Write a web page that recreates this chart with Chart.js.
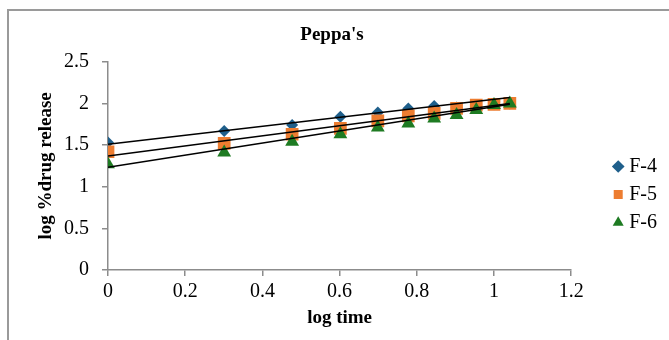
<!DOCTYPE html>
<html>
<head>
<meta charset="utf-8">
<script src="https://cdn.jsdelivr.net/npm/chart.js@4.4.1/dist/chart.umd.min.js"></script>
<style>
html, body { margin: 0; padding: 0; background: #fff; overflow: hidden; }
#wrap { position: relative; width: 669px; height: 340px; overflow: hidden; }
#frame { position: absolute; left: 7px; top: 9px; width: 700px; height: 400px; border: 2px solid #9a9a9a; }
canvas { position: absolute; left: 0; top: 0; }
</style>
</head>
<body>
<div id="wrap">
    <div id="frame"></div>
    <canvas id="chart" width="669" height="340"></canvas>
</div>
<script>
// log of sampling time (h = 1..11)
const logTime = [0, 0.301, 0.477, 0.602, 0.699, 0.778, 0.845, 0.903, 0.954, 1.0, 1.041];

// log % drug release
const f4 = [1.53, 1.67, 1.74, 1.84, 1.89, 1.94, 1.97, 1.95, 1.98, 1.99, 2.0];
const f5 = [1.42, 1.52, 1.63, 1.70, 1.79, 1.85, 1.88, 1.94, 1.98, 1.99, 2.0];
const f6 = [1.27, 1.41, 1.54, 1.63, 1.71, 1.76, 1.82, 1.86, 1.92, 1.98, 2.0];

const seriesNames = ['F-4', 'F-5', 'F-6'];
const seriesValues = [f4, f5, f6];
const seriesColors = ['#1f5f8b', '#ed7d31', '#1e7b22'];
const seriesShapes = ['rectRot', 'rect', 'triangle'];
const seriesRadius = [6, 9, 8];

// linear trendlines as drawn (value at first and last log time)
const trendStart = [1.51, 1.37, 1.235];
const trendEnd = [2.07, 2.00, 1.99];

const xTicks = { min: 0, max: 1.2, step: 0.2 };
const yTicks = { min: 0, max: 2.5, step: 0.5 };

const serif = "'Liberation Serif', 'Times New Roman', serif";
const axisGray = '#8c8c8c';

const datasets = [];
seriesNames.forEach((name, i) => {
    datasets.push({
        label: name,
        data: logTime.map((x, j) => ({ x: x, y: seriesValues[i][j] })),
        backgroundColor: seriesColors[i],
        borderColor: seriesColors[i],
        pointStyle: seriesShapes[i],
        pointRadius: seriesRadius[i],
        pointHoverRadius: seriesRadius[i],
        borderWidth: 0,
        order: 3 - i
    });
});
seriesNames.forEach((name, i) => {
    datasets.push({
        label: name + ' trend',
        data: [
            { x: logTime[0], y: trendStart[i] },
            { x: logTime[logTime.length - 1], y: trendEnd[i] }
        ],
        showLine: true,
        borderColor: '#000',
        borderWidth: 1.5,
        pointRadius: 0,
        order: 0
    });
});

// move the legend box next to the plot like in the original
const legendShift = {
    id: 'legendShift',
    afterLayout(chart) {
        const lg = chart.legend;
        lg.left += 38; lg.right += 38;
        lg.top += 25; lg.bottom += 25;
    }
};

const plainNumber = (v) => String(+Number(v).toFixed(2));

new Chart(document.getElementById('chart'), {
    type: 'scatter',
    data: { datasets: datasets },
    plugins: [legendShift],
    options: {
        responsive: false,
        animation: false,
        layout: { padding: { left: 35, right: 40, top: 10, bottom: 11 } },
        plugins: {
            title: {
                display: true,
                text: "Peppa's",
                color: '#000',
                font: { family: serif, size: 19, weight: 'bold' },
                padding: { top: 14, bottom: 15 }
            },
            legend: {
                position: 'right',
                labels: {
                    color: '#000',
                    font: { family: serif, size: 20 },
                    usePointStyle: true,
                    boxWidth: 2,
                    boxHeight: 9,
                    padding: 8,
                    filter: (item) => !item.text.endsWith('trend'),
                    sort: (a, b) => a.datasetIndex - b.datasetIndex
                }
            },
            tooltip: { enabled: false }
        },
        scales: {
            x: {
                type: 'linear',
                min: xTicks.min,
                max: xTicks.max,
                afterFit: (scale) => { scale.height = 59; },
                ticks: { stepSize: xTicks.step, color: '#000', font: { family: serif, size: 20 }, padding: 4, callback: plainNumber },
                grid: { drawOnChartArea: false, drawTicks: true, tickLength: 6, color: axisGray, lineWidth: 1.5 },
                border: { color: axisGray, width: 1.5 },
                title: {
                    display: true,
                    text: 'log time',
                    color: '#000',
                    font: { family: serif, size: 19, weight: 'bold' },
                    padding: { top: 2, bottom: 0 }
                }
            },
            y: {
                type: 'linear',
                min: yTicks.min,
                max: yTicks.max,
                afterFit: (scale) => { scale.width = 73; },
                ticks: { stepSize: yTicks.step, color: '#000', font: { family: serif, size: 20 }, padding: 13, callback: plainNumber },
                grid: { drawOnChartArea: false, drawTicks: true, tickLength: 6, color: axisGray, lineWidth: 1.5 },
                border: { color: axisGray, width: 1.5 },
                title: {
                    display: true,
                    text: 'log %drug release',
                    color: '#000',
                    font: { family: serif, size: 19, weight: 'bold' },
                    padding: { top: 0, bottom: 6 }
                }
            }
        }
    }
});
</script>
</body>
</html>
